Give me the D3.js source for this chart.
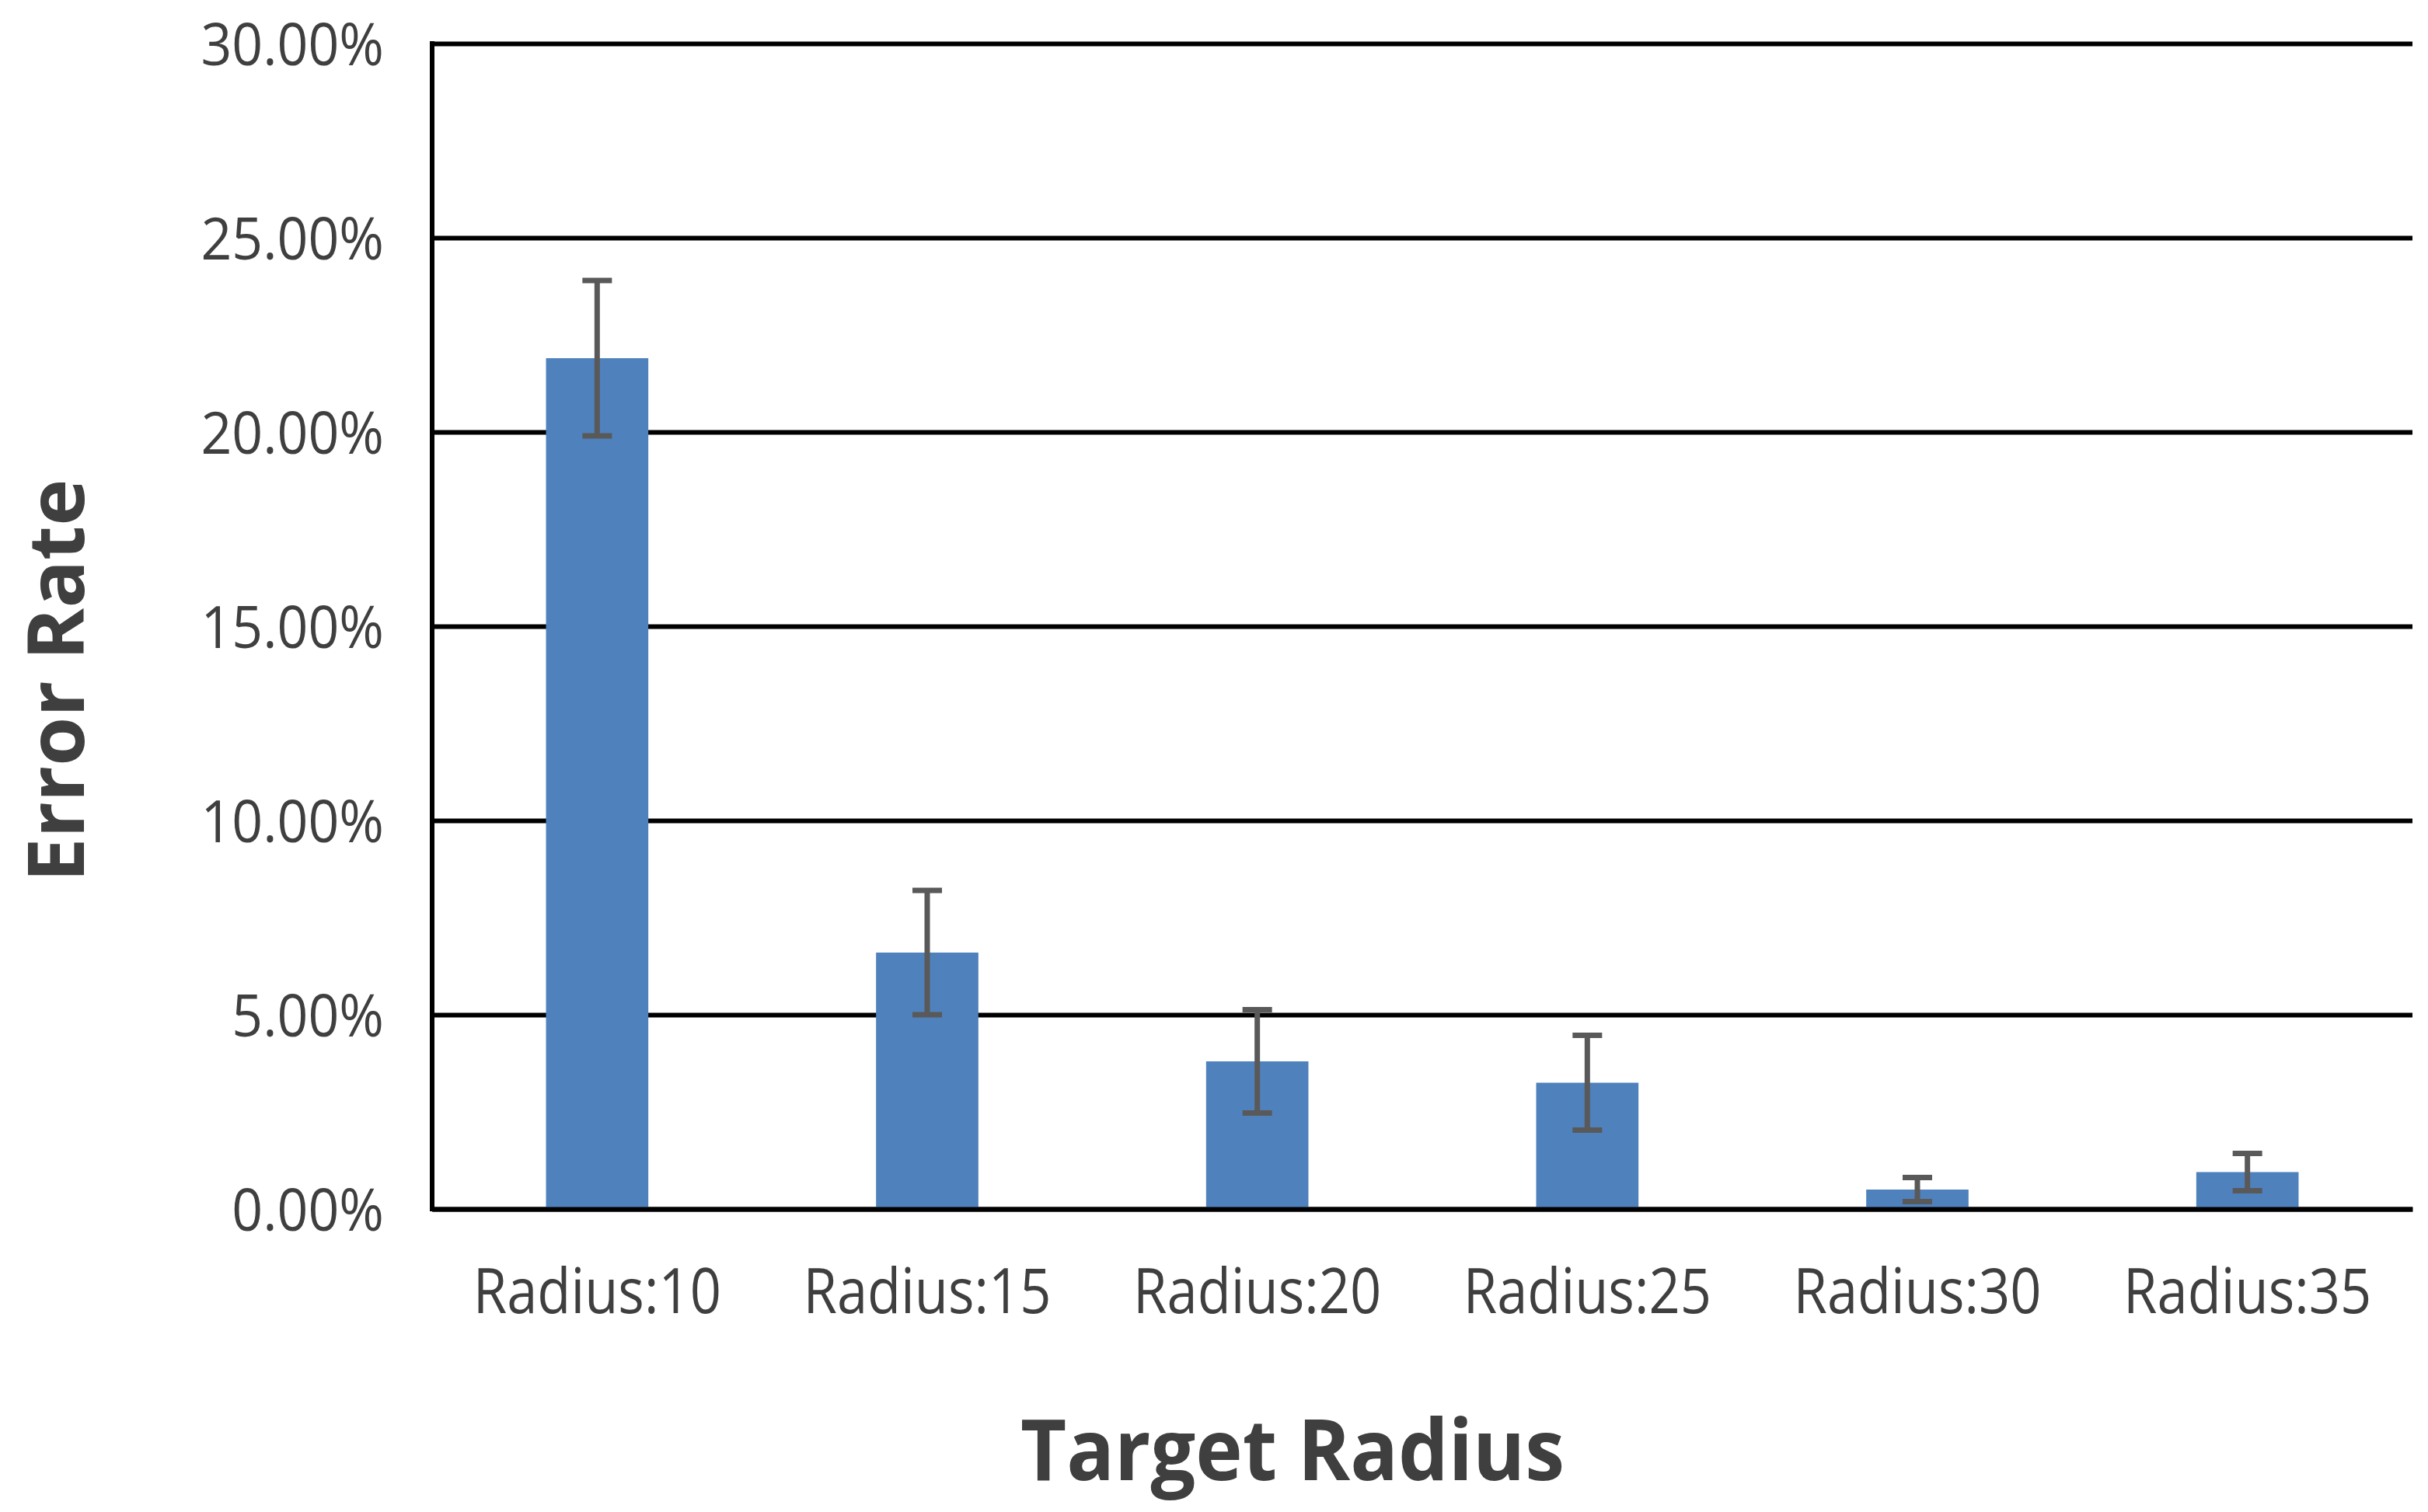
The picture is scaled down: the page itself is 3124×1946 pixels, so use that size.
<!DOCTYPE html>
<meta charset="utf-8">
<style>
  body { margin: 0; background: #fff; }
  svg { display: block; font-family: "Open Sans", "Noto Sans", sans-serif; }
  .grid .domain { display: none; }
  .grid line { stroke: #000; stroke-width: 6; }
  .grid text, .xaxis text { fill: #3f3f3f; }
  .xaxis .tick line { display: none; }
  .xaxis .domain { stroke: #000; stroke-width: 6; }
</style>
<title>Error Rate by Target Radius</title>
<svg width="3124" height="1946"></svg>
<script src="https://d3js.org/d3.v7.min.js"></script>
<script>

  // data (percent)
  var categories = ["Radius:10", "Radius:15", "Radius:20", "Radius:25", "Radius:30", "Radius:35"];
  var errorRate = [21.9, 6.6, 3.8, 3.25, 0.5, 0.95];
  var errorMargin = [2.0, 1.6, 1.33, 1.22, 0.31, 0.48];
  var yTicks = [0, 5, 10, 15, 20, 25, 30];

  var svg = d3.select("svg"),
      margin = {top: 56, right: 20, bottom: 390, left: 556},
      width = +svg.attr("width") - margin.left - margin.right,
      height = +svg.attr("height") - margin.top - margin.bottom,
      graph = svg.append("g").attr("transform", "translate(" + margin.left + "," + margin.top + ")");

  var data = categories.map(function(c, i) {
    return {cat: c, value: errorRate[i], err: errorMargin[i]};
  });

  var x = d3.scaleBand()
      .domain(categories)
      .range([0, width])
      .paddingInner(0.69)
      .paddingOuter(0.345);

  var y = d3.scaleLinear()
      .domain([0, 30])
      .range([height, 0]);

  // squeeze text to mimic the narrow Calibri look
  function condense(sel, k) {
    sel.each(function() {
      var w = this.getComputedTextLength();
      d3.select(this).attr("textLength", w * k).attr("lengthAdjust", "spacingAndGlyphs");
    });
  }

  //Gridlines + y labels
  var grid = graph.append("g")
      .attr("class", "grid")
      .call(d3.axisLeft(y)
        .tickValues(yTicks)
        .tickSize(-width)
        .tickPadding(62)
        .tickFormat(function(d) { return d.toFixed(2) + "%"; }))
      .attr("font-family", null)
      .attr("font-size", null);

  grid.selectAll(".tick text")
      .attr("dy", "0.36em")
      .style("font-size", "75px")
      .call(condense, 0.93);

  //left axis line
  graph.append("line")
      .attr("x1", 0).attr("x2", 0)
      .attr("y1", y(30) - 3).attr("y2", y(0) + 3)
      .attr("stroke", "#000")
      .attr("stroke-width", 6);

  //bars
  graph.append("g")
    .selectAll("rect")
    .data(data)
    .enter().append("rect")
      .attr("x", function(d) { return x(d.cat); })
      .attr("y", function(d) { return y(d.value); })
      .attr("width", x.bandwidth())
      .attr("height", function(d) { return height - y(d.value); })
      .attr("fill", "#4f81bd");

  //error bars
  var capW = 19;
  var eb = graph.append("g")
      .attr("stroke", "#595959")
      .attr("stroke-width", 7)
    .selectAll("g")
    .data(data)
    .enter().append("g")
      .attr("transform", function(d) { return "translate(" + (x(d.cat) + x.bandwidth() / 2) + ",0)"; });

  eb.append("line")
      .attr("y1", function(d) { return y(d.value + d.err); })
      .attr("y2", function(d) { return y(Math.max(0, d.value - d.err)); });
  eb.append("line")
      .attr("x1", -capW).attr("x2", capW)
      .attr("y1", function(d) { return y(d.value + d.err); })
      .attr("y2", function(d) { return y(d.value + d.err); });
  eb.append("line")
      .attr("x1", -capW).attr("x2", capW)
      .attr("y1", function(d) { return y(Math.max(0, d.value - d.err)); })
      .attr("y2", function(d) { return y(Math.max(0, d.value - d.err)); });

  //x axis (baseline drawn over the bars)
  var xaxis = graph.append("g")
      .attr("class", "xaxis")
      .attr("transform", "translate(0," + height + ")")
      .call(d3.axisBottom(x).tickSizeOuter(0).tickSizeInner(0))
      .attr("font-family", null)
      .attr("font-size", null);

  xaxis.selectAll(".tick text")
      .attr("y", 134)
      .attr("dy", null)
      .style("font-size", "80px")
      .call(condense, 0.88);

  //axis titles
  svg.append("text")
      .attr("x", 1663)
      .attr("y", 1905)
      .attr("text-anchor", "middle")
      .attr("fill", "#3f3f3f")
      .attr("font-weight", "bold")
      .style("font-size", "110px")
      .text("Target Radius")
      .call(condense, 0.93);

  svg.append("text")
      .attr("transform", "translate(108,876) rotate(-90)")
      .attr("text-anchor", "middle")
      .attr("fill", "#3f3f3f")
      .attr("font-weight", "bold")
      .style("font-size", "100px")
      .text("Error Rate")
      .call(condense, 1.02);

</script>
